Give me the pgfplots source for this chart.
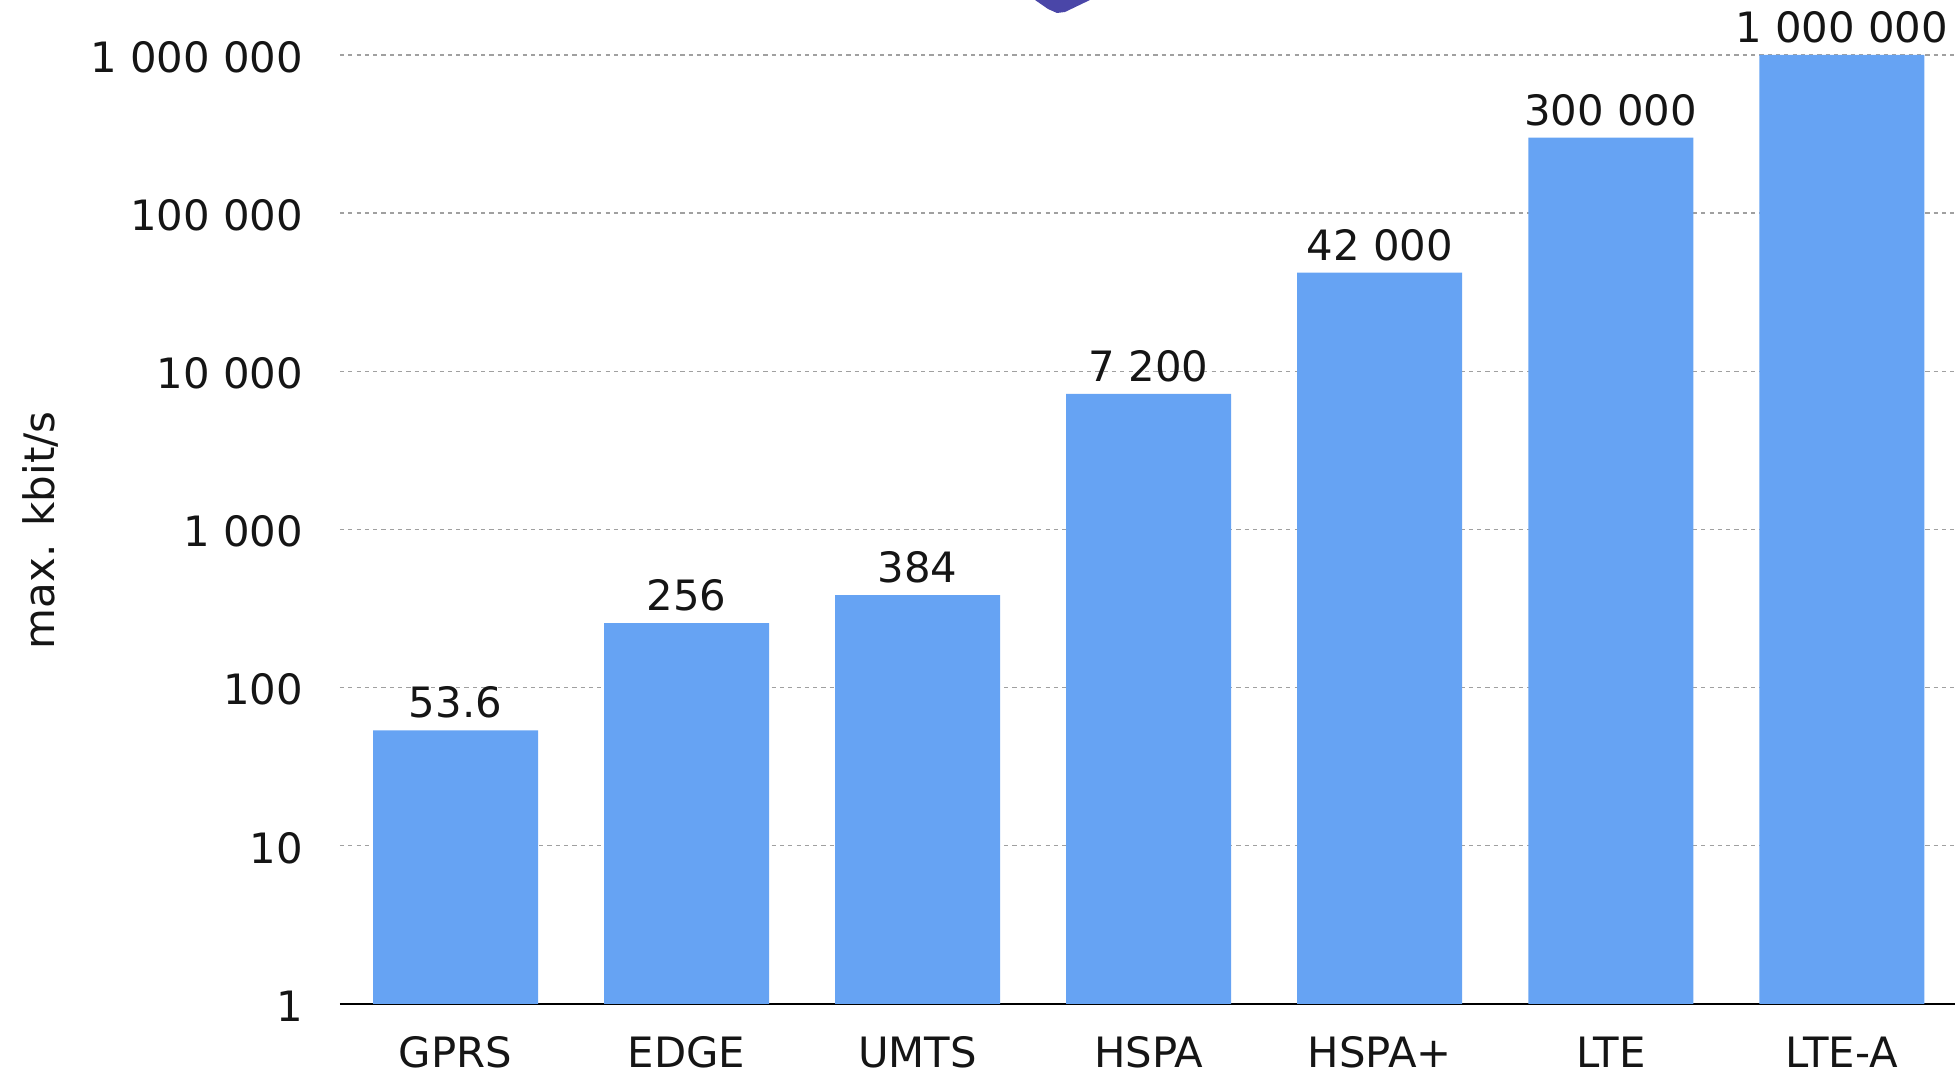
\documentclass[border=0pt]{standalone}
\usepackage{fontspec}
\setmainfont{DejaVu Sans}
\usepackage{pgfplots}
\pgfplotsset{compat=1.18}
\definecolor{barblue}{HTML}{66A3F3}
\definecolor{gridgray}{HTML}{A0A0A0}
\definecolor{txt}{HTML}{151515}
\definecolor{logo}{HTML}{4A46A8}
\begin{document}
\begin{tikzpicture}[x=1bp,y=1bp]
\path[use as bounding box] (-170,-34.5) rectangle (810,502);
\begin{axis}[
  at={(0,0)},anchor=south west,
  scale only axis,
  width=807.5bp,height=474.5bp,
  ymode=log,log origin=infty,
  ymin=1,ymax=1000000,
  xmin=-0.5,xmax=6.49,
  axis lines=left,
  axis line style={-},
  y axis line style={draw=none},
  x axis line style={draw=black,line width=0.8bp},
  major tick length=0pt,
  minor tick length=0pt,
  ytick={1,10,100,1000,10000,100000,1000000},
  yticklabels={1,10,100,1~000,10~000,100~000,1~000~000},
  xtick={0,1,2,3,4,5,6},
  xticklabels={GPRS,EDGE,UMTS,HSPA,HSPA+,LTE,LTE-A},
  ymajorgrids,
  major grid style={draw=gridgray,line width=0.65bp,dash pattern=on 2.1bp off 2.05bp},
  tick label style={font=\fontsize{20.9bp}{24bp}\selectfont,text=txt},
  xticklabel style={anchor=base,yshift=-32bp,inner sep=0pt},
  yticklabel style={anchor=east,xshift=-15bp,yshift=-1bp},
  ylabel={max. kbit/s},
  every axis y label/.style={at={(axis description cs:0,0.5)},rotate=90,anchor=center,yshift=149.5bp,xshift=-0.4bp,font=\fontsize{21bp}{24bp}\selectfont,text=txt},
  ybar,
  bar width=82.5bp,
  point meta=explicit symbolic,
  nodes near coords,
  every node near coord/.style={font=\fontsize{20.9bp}{24bp}\selectfont,text=txt,anchor=base,yshift=6.3bp},
  clip=false,
]
\addplot[fill=barblue,draw=none] coordinates {
  (0,53.6) [53.6]
  (1,256) [256]
  (2,384) [384]
  (3,7200) [7~200]
  (4,42000) [42~000]
  (5,300000) [300~000]
  (6,1000000) [1~000~000]
};
\end{axis}
% fragment of the cropped logo at the top edge
\fill[logo] (347.5,502) -- (354,497.5) -- (358.5,495.5) -- (362.5,496) -- (375,502) -- cycle;
\end{tikzpicture}
\end{document}
